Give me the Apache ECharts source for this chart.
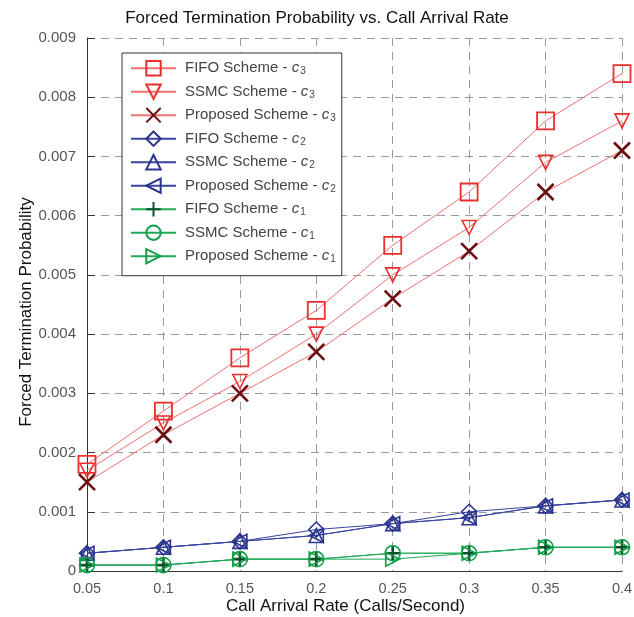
<!DOCTYPE html>
<html><head><meta charset="utf-8">
<script src="https://cdn.jsdelivr.net/npm/echarts@6/dist/echarts.min.js"></script>
<style>html,body{margin:0;padding:0;background:#fff}#c{width:634px;height:617px}</style>
</head><body><div id="c"></div>
<script>
const categories = ['0.05','0.1','0.15','0.2','0.25','0.3','0.35','0.4'];
const fifoC3 = [0.0018,0.0027,0.0036,0.0044,0.0055,0.0064,0.0076,0.0084];
const ssmcC3 = [0.0017,0.0025,0.0032,0.0040,0.0050,0.0058,0.0069,0.0076];
const propC3 = [0.0015,0.0023,0.0030,0.0037,0.0046,0.0054,0.0064,0.0071];
const fifoC2 = [0.0003,0.0004,0.0005,0.0007,0.0008,0.0010,0.0011,0.0012];
const ssmcC2 = [0.0003,0.0004,0.0005,0.0006,0.0008,0.0009,0.0011,0.0012];
const propC2 = [0.0003,0.0004,0.0005,0.0006,0.0008,0.0009,0.0011,0.0012];
const fifoC1 = [0.0001,0.0001,0.0002,0.0002,0.0003,0.0003,0.0004,0.0004];
const ssmcC1 = [0.0001,0.0001,0.0002,0.0002,0.0003,0.0003,0.0004,0.0004];
const propC1 = [0.0001,0.0001,0.0002,0.0002,0.0002,0.0003,0.0004,0.0004];
const yTicks = ['0','0.001','0.002','0.003','0.004','0.005','0.006','0.007','0.008','0.009'];

const XPATH = 'path://M0,0L10,10M10,0L0,10';
const PLUS = 'path://M5,0L5,10M0,5L10,5';
function mk(name, data, lineColor, symColor, symbol, size, rotate, bw){
  return {
    name: name, type: 'line', data: data,
    symbol: symbol, symbolSize: size, symbolRotate: rotate || 0,
    showAllSymbol: true,
    lineStyle: {color: lineColor, width: 1},
    itemStyle: {color: 'rgba(255,255,255,0)', borderColor: symColor, borderWidth: bw || 1.6},
    emphasis: {disabled: true},
    z: 3
  };
}
const red='#ee2d2d', redLine='#f07070', dred='#6a1010';
const blue='#2a3590', blueLine='#3a45a0';
const green='#10a048', greenLine='#20a858', dgreen='#0a5028';
const series = [
  mk('FIFO Scheme - {i|c}{s|3}', fifoC3, redLine, red, 'rect', 17, 0, 1.8),
  mk('SSMC Scheme - {i|c}{s|3}', ssmcC3, redLine, red, 'triangle', 14, 180, 1.6),
  mk('Proposed Scheme - {i|c}{s|3}', propC3, redLine, dred, XPATH, 16, 0, 2.6),
  mk('FIFO Scheme - {i|c}{s|2}', fifoC2, blueLine, blue, 'diamond', 15, 0, 1.6),
  mk('SSMC Scheme - {i|c}{s|2}', ssmcC2, blueLine, blue, 'triangle', 14, 0, 1.6),
  mk('Proposed Scheme - {i|c}{s|2}', propC2, blueLine, blue, 'triangle', 14, 90, 1.6),
  mk('FIFO Scheme - {i|c}{s|1}', fifoC1, greenLine, dgreen, PLUS, 15, 0, 2.6),
  mk('SSMC Scheme - {i|c}{s|1}', ssmcC1, greenLine, green, 'circle', 15, 0, 1.6),
  mk('Proposed Scheme - {i|c}{s|1}', propC1, greenLine, green, 'triangle', 14, -90, 1.6)
];
const FF = 'Liberation Sans';
const chart = echarts.init(document.getElementById('c'), null, {renderer:'canvas'});
chart.setOption({
  animation: false,
  backgroundColor: '#fff',
  title: {text: 'Forced Termination Probability vs. Call Arrival Rate', left: 'center', top: 5,
    textStyle: {fontFamily: FF, fontSize: 17, fontWeight: 'normal', color: '#111'}},
  grid: {left: 87, right: 12, top: 38, bottom: 46, outerBoundsMode: 'none', containLabel: false},
  legend: {
    orient: 'vertical', left: 122, top: 53,
    backgroundColor: '#fff', borderColor: '#333', borderWidth: 1,
    padding: [7, 6, 11, 8], itemGap: 6.8, itemWidth: 45, itemHeight: 18,
    data: series.map(s => s.name),
    textStyle: {fontFamily: FF, fontSize: 15, color: '#444', padding: [0,0,0,4],
      rich: {i: {fontStyle: 'italic', fontFamily: FF, fontSize: 15, color: '#444'},
             s: {fontFamily: FF, fontSize: 10, color: '#444', verticalAlign: 'bottom', padding: [7,0,0,1]}}}
  },
  xAxis: {
    type: 'category', data: categories, boundaryGap: false,
    name: 'Call Arrival Rate (Calls/Second)', nameLocation: 'middle', nameGap: 27,
    nameMoveOverlap: false,
    nameTextStyle: {fontFamily: FF, fontSize: 17, color: '#111', padding: [0, 18, 0, 0]},
    axisLine: {lineStyle: {color: '#333', width: 1}},
    axisTick: {show: false},
    axisLabel: {fontFamily: FF, fontSize: 14.5, color: '#555', margin: 10},
    splitLine: {show: true, lineStyle: {color: '#999', type: [8, 6], width: 1}}
  },
  yAxis: {
    type: 'value', min: 0, max: 0.009, interval: 0.001,
    name: 'Forced Termination Probability', nameLocation: 'middle', nameGap: 52,
    nameMoveOverlap: false,
    nameTextStyle: {fontFamily: FF, fontSize: 17, color: '#111', padding: [0, 15, 0, 0]},
    axisLine: {show: true, lineStyle: {color: '#333', width: 1}},
    axisTick: {show: true, inside: true, length: 8, lineStyle: {color: '#333'}},
    axisLabel: {fontFamily: FF, fontSize: 15, color: '#555', margin: 11,
      formatter: function(v){ return yTicks[Math.round(v / 0.001)]; }},
    splitLine: {show: true, lineStyle: {color: '#999', type: [8, 6], width: 1}}
  },
  series: series
});
</script></body></html>
